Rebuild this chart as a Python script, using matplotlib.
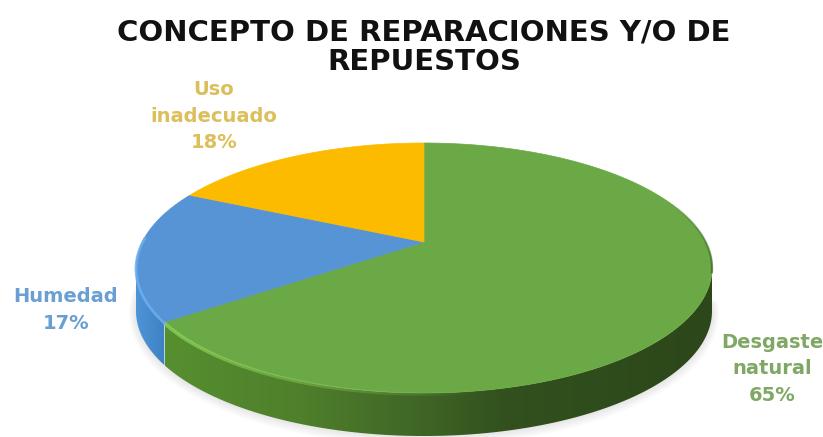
import numpy as np
import matplotlib
matplotlib.use("Agg")
import matplotlib.pyplot as plt
from matplotlib.collections import LineCollection
from matplotlib.colors import LinearSegmentedColormap, to_rgba

title = "CONCEPTO DE REPARACIONES Y/O DE\nREPUESTOS"
categories = ["Desgaste\nnatural", "Humedad", "Uso\ninadecuado"]
shares = [65, 17, 18]
face_colors = ["#6aa945", "#5694d6", "#fdbb00"]
label_colors = ["#7fa864", "#6a9fd2", "#dcbf5a"]
label_pos = [(772, 369), (66, 310), (214, 116)]

# pie geometry in pixels
apex_x, apex_y = 424, 242
scale_x, scale_y, tilt = 281.7, 119.6, 0.208
depth = 43


def project(theta):
    # theta runs clockwise from the top of the pie, in radians
    u, v = np.sin(theta), np.cos(theta)
    w = 1 + tilt * v
    return apex_x + scale_x * u / w, apex_y - scale_y * v / w


def fading_rim(theta, alpha, color, width, shift=0):
    # rim line whose opacity changes along its length
    x, y = project(theta)
    pts = np.column_stack([x, y + shift]).reshape(-1, 1, 2)
    segs = np.concatenate([pts[1:], pts[:-1]], axis=1)
    cols = [to_rgba(color, a) for a in alpha[:-1]]
    ax.add_collection(LineCollection(segs, colors=cols, linewidths=width, zorder=4))


fig = plt.figure(figsize=(8.23, 4.37), dpi=100)
ax = fig.add_axes([0, 0, 1, 1])
ax.axis("off")

edges = np.deg2rad(np.cumsum([0] + shares) * 3.6)

# soft shadow under the front rim
sx, sy = project(np.linspace(np.pi * 0.55, np.pi * 1.55, 200))
for grow in range(1, 9):
    ax.plot(sx, sy + depth + grow * 0.3, color="#000000", lw=grow * 1.3,
            alpha=0.01, solid_capstyle="round", zorder=1)

# the wall is only visible between the left and right extremes of the rim
sweep = np.linspace(0, 2 * np.pi, 2000)
rim_x = project(sweep)[0]
right_end = sweep[np.argmax(rim_x)]
left_end = sweep[np.argmin(rim_x)]

# side wall, shaded across the width of the pie
green_side = LinearSegmentedColormap.from_list(
    "g", [(0, "#568f30"), (0.25, "#4f7f2b"), (0.47, "#3f6526"), (0.62, "#32511e"), (1, "#2c471a")])
blue_side = LinearSegmentedColormap.from_list("b", [(0, "#4d95d8"), (1, "#3c7cbc")])
side_parts = [
    (green_side, right_end, edges[1], 165, 712),
    (blue_side, edges[1], left_end, 136, 172),
]
for cmap, start, stop, x0, x1 in side_parts:
    x, y = project(np.linspace(start, stop, 300))
    im = ax.imshow(np.linspace(0, 1, 256)[None, :], cmap=cmap, extent=[x0, x1, 437, 0],
                   aspect="auto", zorder=2)
    outline = plt.Polygon(np.column_stack([np.r_[x, x[::-1]], np.r_[y, y[::-1] + depth]]),
                          transform=ax.transData, fill=False, lw=0)
    ax.add_patch(outline)
    im.set_clip_path(outline)

ax.set_xlim(0, 823)
ax.set_ylim(437, 0)

# top faces
for i in range(len(shares)):
    x, y = project(np.linspace(edges[i], edges[i + 1], 200))
    ax.fill(np.r_[apex_x, x], np.r_[apex_y, y], color=face_colors[i], lw=0.5, zorder=3)

# lighter bevel on the front left rim, darker on the right
th = np.linspace(edges[1], np.pi * 0.95, 200)
fading_rim(th, np.linspace(0.9, 0, 200), "#8fd35c", 2.6, shift=1)

th = np.linspace(edges[1], np.deg2rad(272), 60)
x, y = project(th)
ax.plot(x, y + 1, color="#6eb0ee", lw=2, alpha=0.8, zorder=4)

th = np.linspace(np.pi * 0.38, np.pi * 0.58, 100)
fading_rim(th, np.linspace(0, 0.85, 100), "#3a5f22", 1.6)

ax.text(424, 47, title, ha="center", va="center", fontsize=21, fontweight="bold",
        family="DejaVu Sans", color="#111111", linespacing=1.08, zorder=6)

for name, share, col, pos in zip(categories, shares, label_colors, label_pos):
    ax.text(pos[0], pos[1], f"{name}\n{share}%", ha="center", va="center", fontsize=14,
            fontweight="bold", family="DejaVu Sans", color=col, linespacing=1.5, zorder=6)

fig.savefig("out.png", dpi=100)
